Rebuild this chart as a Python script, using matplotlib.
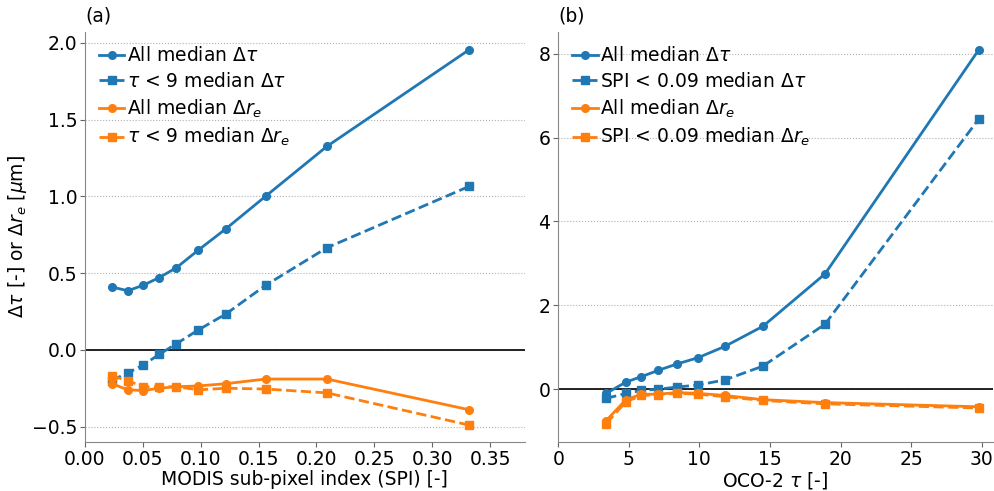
import numpy as np
import matplotlib.pyplot as plt

# panel (a): MODIS sub-pixel index bins
spi = [0.023, 0.037, 0.050, 0.064, 0.079, 0.098, 0.122, 0.156, 0.209, 0.332]
a_all_dtau = [0.41, 0.385, 0.42, 0.47, 0.535, 0.65, 0.79, 1.00, 1.325, 1.955]
a_sub_dtau = [-0.20, -0.15, -0.10, -0.03, 0.04, 0.13, 0.235, 0.42, 0.665, 1.065]
a_all_dre = [-0.22, -0.26, -0.265, -0.25, -0.24, -0.235, -0.22, -0.19, -0.19, -0.39]
a_sub_dre = [-0.17, -0.20, -0.24, -0.24, -0.24, -0.26, -0.25, -0.255, -0.28, -0.49]

# panel (b): OCO-2 optical thickness bins
tau = [3.4, 4.8, 5.9, 7.1, 8.4, 9.9, 11.8, 14.5, 18.9, 29.8]
b_all_dtau = [-0.10, 0.17, 0.30, 0.45, 0.60, 0.75, 1.02, 1.50, 2.75, 8.10]
b_sub_dtau = [-0.22, -0.10, -0.03, 0.00, 0.05, 0.10, 0.22, 0.55, 1.55, 6.45]
b_all_dre = [-0.75, -0.25, -0.12, -0.12, -0.08, -0.10, -0.15, -0.25, -0.32, -0.42]
b_sub_dre = [-0.82, -0.30, -0.15, -0.13, -0.10, -0.12, -0.18, -0.27, -0.35, -0.45]

blue = '#1f77b4'
orange = '#ff7f0e'

plt.rcParams['font.size'] = 13.5

fig = plt.figure(figsize=(9.95, 4.91), dpi=100)
ax1 = fig.add_axes([0.0854, 0.0998, 0.442, 0.835])
ax2 = fig.add_axes([0.561, 0.0998, 0.437, 0.835])


def draw(ax, x, all_dtau, sub_dtau, all_dre, sub_dre, sub_label):
    ax.plot(x, all_dtau, '-o', color=blue, lw=2, ms=5.5, label=r'All median $\Delta\tau$')
    ax.plot(x, sub_dtau, '--s', color=blue, lw=2, ms=6, label=sub_label + r' median $\Delta\tau$')
    ax.plot(x, all_dre, '-o', color=orange, lw=2, ms=5.5, label=r'All median $\Delta r_e$')
    ax.plot(x, sub_dre, '--s', color=orange, lw=2, ms=6, label=sub_label + r' median $\Delta r_e$')
    ax.axhline(0, color='black', lw=1.2, zorder=1)
    ax.yaxis.grid(True, ls=':', color='#b0b0b0', lw=0.8)
    ax.set_axisbelow(True)
    for s in ['top', 'right']:
        ax.spines[s].set_visible(False)
    for s in ['left', 'bottom']:
        ax.spines[s].set_color('#888888')
    ax.tick_params(length=3.5, pad=2, color='#666666')
    ax.legend(loc='upper left', frameon=False, handlelength=1.35, handletextpad=0.15,
              labelspacing=0.35, borderaxespad=0.35, fontsize=13.5)


draw(ax1, spi, a_all_dtau, a_sub_dtau, a_all_dre, a_sub_dre, r'$\tau$ < 9')
ax1.set_xlim(0, 0.38)
ax1.set_ylim(-0.6, 2.07)
ax1.set_xticks(np.arange(0, 0.36, 0.05))
ax1.set_yticks([-0.5, 0.0, 0.5, 1.0, 1.5, 2.0])
ax1.set_xlabel('MODIS sub-pixel index (SPI) [-]', labelpad=1)
ax1.set_ylabel(r'$\Delta\tau$ [-] or $\Delta r_e$ [$\mu$m]')
ax1.yaxis.set_label_coords(-0.127, 0.5)
ax1.text(0.0, 1.015, '(a)', transform=ax1.transAxes, fontsize=13.5, va='bottom')

draw(ax2, tau, b_all_dtau, b_sub_dtau, b_all_dre, b_sub_dre, 'SPI < 0.09')
ax2.set_xlim(0, 30.8)
ax2.set_ylim(-1.26, 8.52)
ax2.set_xticks([0, 5, 10, 15, 20, 25, 30])
ax2.set_yticks([0, 2, 4, 6, 8])
ax2.set_xlabel(r'OCO-2 $\tau$ [-]', labelpad=1)
ax2.text(0.0, 1.015, '(b)', transform=ax2.transAxes, fontsize=13.5, va='bottom')

fig.savefig('out.png', dpi=100)
